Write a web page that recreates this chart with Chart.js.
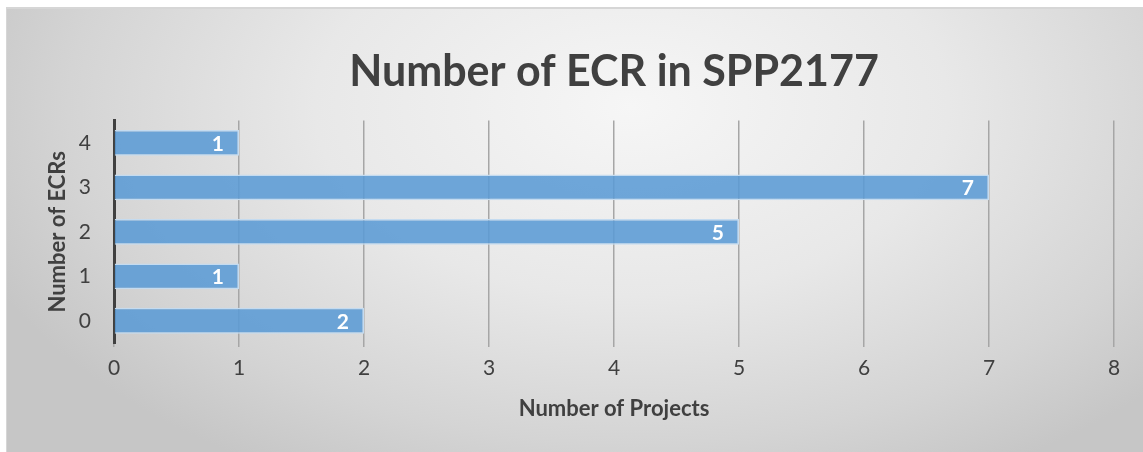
<!DOCTYPE html>
<html>
<head>
<meta charset="utf-8">
<script src="https://cdn.jsdelivr.net/npm/chart.js@4"></script>
<style>
  body { margin: 0; background: #ffffff; }
  #box {
    position: absolute; left: 6px; top: 7px; width: 1137px; height: 445px;
    border-top: 2px solid #d6d6d6; border-left: 1px solid #d6d6d6; box-sizing: border-box;
    background: radial-gradient(ellipse 62% 95% at 55% 22%, #f6f6f6 0%, #e8e8e8 45%, #d4d4d4 80%, #c6c6c6 100%);
  }
</style>
</head>
<body>
<div id="box"><canvas id="ecrChart"></canvas></div>
<script>
  var ecrCounts = ['4', '3', '2', '1', '0'];
  var projectCounts = [1, 7, 5, 1, 2];
  var xTicks = [0, 1, 2, 3, 4, 5, 6, 7, 8];

  var textColor = '#404040';
  var fontFamily = 'Lato, "Open Sans", sans-serif';

  // white value labels just inside the bar end
  var barLabels = {
    id: 'barLabels',
    afterDatasetsDraw: function(chart) {
      var ctx = chart.ctx;
      var meta = chart.getDatasetMeta(0);
      ctx.save();
      ctx.fillStyle = '#ffffff';
      ctx.font = 'bold 21px ' + fontFamily;
      ctx.textAlign = 'right';
      ctx.textBaseline = 'middle';
      meta.data.forEach(function(bar, i) {
        ctx.fillText(String(chart.data.datasets[0].data[i]), bar.x - 15, bar.y + 1);
      });
      ctx.restore();
    }
  };

  var myChart = new Chart(document.getElementById('ecrChart').getContext('2d'), {
    type: 'bar',
    data: {
      labels: ecrCounts,
      datasets: [{
        label: 'Number of Projects',
        data: projectCounts,
        backgroundColor: 'rgba(91, 155, 213, 0.88)',
        borderColor: '#c4dbf0',
        borderWidth: 1.5,
        barPercentage: 0.58,
        categoryPercentage: 1
      }]
    },
    options: {
      indexAxis: 'y',
      responsive: true,
      maintainAspectRatio: false,
      animation: false,
      layout: { padding: { left: 38, right: 29, top: 37, bottom: 28 } },
      plugins: {
        legend: { display: false },
        tooltip: { enabled: false },
        title: {
          display: true,
          fullSize: false,
          text: 'Number of ECR in SPP2177',
          color: textColor,
          font: { family: fontFamily, size: 43, weight: 'bold' },
          padding: { top: 0, bottom: 23 }
        }
      },
      scales: {
        x: {
          min: 0,
          max: 8,
          afterBuildTicks: function(scale) {
            scale.ticks = xTicks.map(function(v) { return { value: v }; });
          },
          afterFit: function(scale) { scale.height = 81; },
          grid: { color: '#a6a6a6', lineWidth: 1.5, tickLength: 4, drawTicks: true },
          border: { display: false },
          ticks: { color: textColor, font: { family: fontFamily, size: 21 }, padding: 9 },
          title: {
            display: true,
            text: 'Number of Projects',
            color: textColor,
            font: { family: fontFamily, size: 22, weight: 'bold' },
            padding: { top: 0, bottom: 2 }
          }
        },
        y: {
          afterFit: function(scale) { scale.width = 69; },
          grid: { display: false },
          border: { display: true, color: '#404040', width: 3 },
          ticks: { color: textColor, font: { family: fontFamily, size: 21 }, padding: 15 },
          title: {
            display: true,
            text: 'Number of ECRs',
            color: textColor,
            font: { family: fontFamily, size: 22, weight: 'bold' },
            padding: { top: 0, bottom: 0 }
          }
        }
      }
    },
    plugins: [barLabels]
  });
</script>
</body>
</html>
